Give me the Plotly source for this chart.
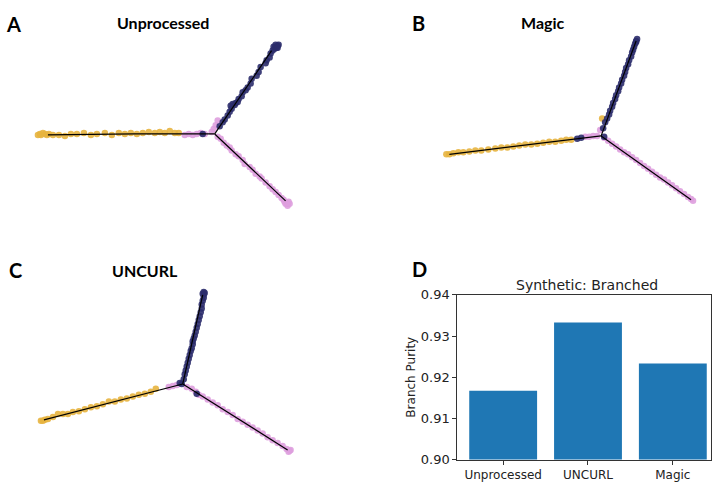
import plotly.graph_objects as go

W, H = 712, 486

# ---------------- data (embedding coords relative to branch point) ----------------
# Panel A: Unprocessed
A_yellow_x = [-177, -175, -174, -172, -170, -168, -166, -162, -156, -150, -144, -138, -131, -124, -118, -110, -103, -96, -90, -84, -78, -72, -66, -60, -55, -50, -45, -40, -36]
A_yellow_y = [-1, 0, -1, 1, 0, -1, 0, -1, -1, -2, 0, 0, 1, -1, 0, 1, -1, 1, 0, 1, 0, 1, 2, 1, 2, 1, 3, 1, 1]
A_pink_x = [-30, -26, -22, -18, -14, -10, 3, -1, 1, -3]
A_pink_y = [-1, 0, -1, 0, 1, 0, 14, 5, 9, 2]
A_navy_x = [-12, 5, 8, 10, 13, 15, 17, 16, 20, 21, 18, 23, 24, 27, 28, 31, 33, 36, 37, 42, 44, 46, 51, 52, 55, 56, 58, 60, 61, 63, 64, 62, 59, 61, 63]
A_navy_y = [0, 8, 12, 15, 19, 23, 26, 29, 30, 32, 31, 33, 36, 39, 43, 45, 48, 52, 57, 60, 64, 69, 73, 76, 79, 83, 86, 88, 90, 91, 92, 89, 90, 92, 89]
A_down_x = [3, 6, 9, 12, 15, 17, 21, 24, 28, 30, 35, 38, 41, 45, 47, 51, 55, 58, 61, 64, 67, 69, 70, 72, 73, 74, 71, 73, 75]
A_down_y = [-3, -5, -9, -12, -14, -17, -21, -23, -27, -31, -34, -37, -41, -44, -46, -50, -54, -57, -60, -63, -66, -68, -70, -71, -72, -70, -72, -74, -72]
A_curve = {"left": ([-167, -80, 0], [-1, 0, 0]), "up": ([0, 30, 57], [0, 45, 86]), "down": ([0, 35, 71], [0, -34, -69])}

# Panel B: Magic
B_yellow_x = [-155, -152, -148, -143, -138, -132, -126, -120, -113, -106, -100, -94, -88, -82, -76, -70, -64, -58, -52, -46, -40, -35, -30, 1]
B_yellow_y = [-19, -19, -18, -17, -17, -16, -15, -15, -14, -13, -12, -12, -11, -10, -9, -9, -8, -7, -6, -6, -5, -4, -4, 18]
B_pink_x = [-16, -12, -8, -4, -1, 3, 7, 11, 15, 19, 23, 27, 31, 35, 39, 43, 47, 51, 55, 59, 63, 67, 71, 75, 79, 83, 87, 90, 92]
B_pink_y = [-1, -1, 0, 0, 6, -2, -5, -8, -11, -14, -17, -19, -22, -25, -28, -31, -34, -37, -40, -43, -45, -48, -51, -54, -57, -60, -63, -65, -67]
B_navy_x = [-24, -20, 3, 2, 4, 6, 8, 9, 11, 12, 14, 15, 17, 18, 20, 21, 23, 24, 25, 27, 28, 30, 31, 32, 33, 34, 35, 36, 35]
B_navy_y = [-3, -2, -1, 8, 14, 18, 22, 26, 30, 34, 38, 42, 46, 50, 54, 58, 62, 66, 70, 74, 78, 82, 86, 89, 92, 95, 98, 100, 97]
B_curve = {"left": ([-152, -75, 0], [-19, -9, 0]), "up": ([0, 17, 35], [0, 48, 98]), "down": ([0, 45, 90], [0, -33, -66])}

# Panel C: UNCURL
C_yellow_x = [-142, -140, -138, -135, -130, -125, -120, -115, -110, -104, -98, -92, -86, -80, -74, -68, -62, -56, -50, -44, -38, -32, -27]
C_yellow_y = [-38, -38, -37, -36, -34, -31, -31, -31, -29, -28, -26, -24, -23, -21, -18, -18, -16, -15, -13, -11, -10, -8, -5]
C_pink_x = [-14, -10, -6, 4, 9, 13, 16, 20, 25, 30, 35, 40, 45, 50, 55, 60, 65, 70, 75, 80, 85, 90, 95, 100, 104, 107, 108, 106]
C_pink_y = [-3, -2, -1, -3, -5, -8, -11, -13, -16, -19, -22, -26, -29, -32, -36, -39, -42, -45, -48, -51, -55, -58, -61, -64, -67, -69, -68, -70]
C_navy_x = [-3, -1, 14, 1, 2, 3, 4, 5, 6, 7, 8, 9, 10, 10, 11, 12, 13, 14, 15, 16, 17, 18, 19, 19, 20, 21, 21, 22, 20, 21]
C_navy_y = [1, 0, -10, 5, 10, 14, 18, 22, 26, 30, 34, 37, 41, 44, 47, 50, 54, 58, 62, 66, 70, 74, 78, 82, 86, 89, 92, 94, 93, 95]
C_curve = {"left": ([-139, -70, 0], [-37, -19, 0]), "up": ([0, 10, 20], [0, 46, 92]), "down": ([0, 52, 105], [0, -34, -68])}

# Panel D: bar chart
methods = ["Unprocessed", "UNCURL", "Magic"]
purity = [0.9167, 0.9333, 0.9233]

# ---------------- styles ----------------
YELLOW = "#E7B43F"
NAVY = "#2B2C6C"
PINK = "#DE9FDE"
BAR = "#1f77b4"

def px_x(p):
    return p / W

def px_y(p):
    return 1 - p / H

fig = go.Figure()

panels = [
    ("", (0, 0, 356, 243), (215, 131),
     (A_yellow_x, A_yellow_y, A_pink_x, A_pink_y, A_navy_x, A_navy_y, A_down_x, A_down_y), A_curve),
    ("2", (356, 0, 712, 243), (602, 133),
     (B_yellow_x, B_yellow_y, B_pink_x, B_pink_y, B_navy_x, B_navy_y, [], []), B_curve),
    ("3", (0, 243, 356, 486), (183, 389),
     (C_yellow_x, C_yellow_y, C_pink_x, C_pink_y, C_navy_x, C_navy_y, [], []), C_curve),
]

for suf, box, jn, d, curve in panels:
    xa, ya = "x" + suf, "y" + suf
    yx, yy, px_, py_, nx, ny, dx, dy = d
    for xs, ys, col in [(yx, yy, YELLOW), (px_ + dx, py_ + dy, PINK), (nx, ny, NAVY)]:
        fig.add_trace(go.Scatter(x=xs, y=ys, mode="markers", xaxis=xa, yaxis=ya,
                                 marker=dict(color=col, size=6.5, opacity=0.9, line=dict(width=0)),
                                 showlegend=False, hoverinfo="skip"))
    for key in ["left", "up", "down"]:
        cx, cy = curve[key]
        fig.add_trace(go.Scatter(x=cx, y=cy, mode="lines", xaxis=xa, yaxis=ya,
                                 line=dict(color="black", width=1.2),
                                 showlegend=False, hoverinfo="skip"))
    x0, y0, x1, y1 = box
    jx, jy = jn
    ax_common = dict(visible=False, showgrid=False, zeroline=False, fixedrange=True)
    fig.layout["xaxis" + suf] = dict(domain=[px_x(x0), px_x(x1)], range=[x0 - jx, x1 - jx],
                                     anchor=ya, **ax_common)
    fig.layout["yaxis" + suf] = dict(domain=[px_y(y1), px_y(y0)], range=[jy - y1, jy - y0],
                                     anchor=xa, **ax_common)

# bar chart
fig.add_trace(go.Bar(x=methods, y=purity, xaxis="x4", yaxis="y4", marker=dict(color=BAR, line=dict(width=0)),
                     width=0.8, showlegend=False))
fig.layout["xaxis4"] = dict(domain=[px_x(458), 1.0], range=[-0.54, 2.45], anchor="y4",
                            showline=True, linecolor="#333", linewidth=1, mirror=True,
                            ticks="outside", ticklen=4, tickcolor="#333",
                            tickfont=dict(family="DejaVu Sans", size=12, color="#222"),
                            showgrid=False, zeroline=False)
fig.layout["yaxis4"] = dict(domain=[px_y(467), px_y(297)], range=[0.90, 0.94], anchor="x4",
                            tickvals=[0.90, 0.91, 0.92, 0.93, 0.94],
                            ticktext=["0.90", "0.91", "0.92", "0.93", "0.94"],
                            showline=True, linecolor="#333", linewidth=1, mirror=True,
                            ticks="outside", ticklen=4, tickcolor="#333",
                            tickfont=dict(family="DejaVu Sans", size=13, color="#222"),
                            title=dict(text="Branch Purity", font=dict(family="DejaVu Sans", size=12, color="#222"),
                                       standoff=2),
                            showgrid=False, zeroline=False)

annots = [
    ("A", 14, 18, 20, True), ("B", 419, 16, 20, True), ("C", 16, 271, 20, True), ("D", 420, 270, 20, True),
    ("Unprocessed", 163, 16, 16, True), ("Magic", 544, 16, 16, True), ("UNCURL", 145, 272, 16, True),
    ("Synthetic: Branched", 588, 287, 14, False),
]
for text, x, y, size, bold in annots:
    fig.add_annotation(x=px_x(x), y=px_y(y), xref="paper", yref="paper", showarrow=False,
                       text=f"<b>{text}</b>" if bold else text,
                       font=dict(family="Lato" if bold else "DejaVu Sans", size=size, color="black" if bold else "#222"),
                       xanchor="center", yanchor="middle")

fig.update_layout(width=W, height=H, margin=dict(l=0, r=0, t=0, b=0),
                  paper_bgcolor="white", plot_bgcolor="white", bargap=0.2)

fig.write_html("out.html")
